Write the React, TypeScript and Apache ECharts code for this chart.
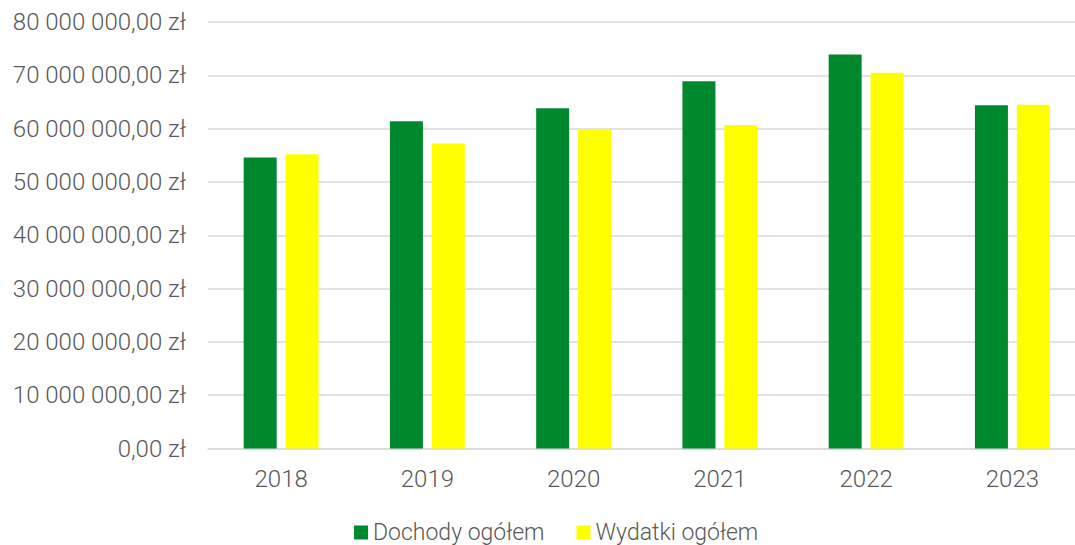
import React, { useEffect, useRef } from "react";
import * as echarts from "echarts";

const years = ["2018", "2019", "2020", "2021", "2022", "2023"];
const dochody = [54600000, 61400000, 63800000, 68900000, 73900000, 64400000];
const wydatki = [55200000, 57200000, 59900000, 60700000, 70500000, 64500000];

function fmt(v: number): string {
  const s = Math.round(v).toString().replace(/\B(?=(\d{3})+(?!\d))/g, " ");
  return s + ",00 zł";
}

export default function App() {
  const ref = useRef<HTMLDivElement>(null);
  useEffect(() => {
    const chart = echarts.init(ref.current!, null, { renderer: "svg" });
    chart.setOption({
      animation: false,
      textStyle: { fontFamily: "Roboto, Liberation Sans, Arial, sans-serif", fontWeight: 300 },
      grid: {
        left: 208,
        width: 877.5,
        top: 22,
        bottom: 96.5,
        outerBoundsMode: "none",
        containLabel: false,
      },
      legend: {
        bottom: -4,
        left: 349,
        itemWidth: 14,
        itemHeight: 14,
        itemGap: 32,
        icon: "rect",
        textStyle: { fontSize: 23, fontWeight: 300, color: "#595959" },
        data: ["Dochody ogółem", "Wydatki ogółem"],
      },
      xAxis: {
        type: "category",
        data: years,
        axisLine: { lineStyle: { color: "#d9d9d9", width: 1.5 } },
        axisTick: { show: false },
        axisLabel: { fontSize: 24, fontWeight: 300, color: "#595959", margin: 18 },
      },
      yAxis: {
        type: "value",
        min: 0,
        max: 80000000,
        interval: 10000000,
        axisLabel: {
          fontSize: 24,
          fontWeight: 300,
          color: "#595959",
          margin: 22,
          formatter: (v: number) => fmt(v),
        },
        splitLine: { lineStyle: { color: "#d9d9d9", width: 1.5 } },
      },
      series: [
        {
          name: "Dochody ogółem",
          type: "bar",
          data: dochody,
          barWidth: 33,
          barGap: "27%",
          itemStyle: { color: "#00882f" },
        },
        {
          name: "Wydatki ogółem",
          type: "bar",
          data: wydatki,
          barWidth: 33,
          itemStyle: { color: "#ffff00" },
        },
      ],
    });
    return () => chart.dispose();
  }, []);
  return <div ref={ref} style={{ width: 1075, height: 545, position: "absolute", left: 0, top: 0 }} />;
}
